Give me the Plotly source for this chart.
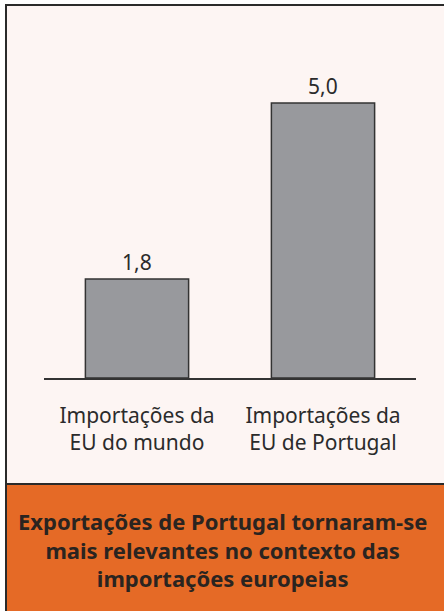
import plotly.graph_objects as go

categories = ["Importações da<br>EU do mundo", "Importações da<br>EU de Portugal"]
values = [1.8, 5.0]
value_labels = ["1,8", "5,0"]
footer_lines = [
    "Exportações de Portugal tornaram-se",
    "mais relevantes no contexto das",
    "importações europeias",
]

W, H = 444, 611
FONT = "Noto Sans"

def px(x):
    return x / W

def py(y):
    return 1 - y / H

fig = go.Figure()
fig.add_trace(go.Bar(
    x=categories,
    y=values,
    marker=dict(color="#98999D", line=dict(color="#333333", width=1.5)),
    cliponaxis=False,
    width=0.555,
    hoverinfo="skip",
))

annotations = []
for c, v, lab in zip(categories, values, value_labels):
    annotations.append(dict(
        text=lab, x=c, y=v, xref="x", yref="y",
        xanchor="center", yanchor="bottom", yshift=1,
        showarrow=False,
        font=dict(family=FONT, size=21, color="#2b2b2b"),
    ))
annotations.append(dict(
    text="<b>" + "<br>".join(footer_lines) + "</b>", xref="paper", yref="paper",
    x=px(222), y=py(549), xanchor="center", yanchor="middle",
    showarrow=False, align="center",
    font=dict(family=FONT, size=22, color="#2a2420"),
))

fig.update_layout(
    width=W, height=H,
    margin=dict(l=0, r=0, t=0, b=0),
    paper_bgcolor="#ffffff",
    plot_bgcolor="rgba(0,0,0,0)",
    showlegend=False,
    font=dict(family=FONT, size=21, color="#2b2b2b"),
    xaxis=dict(
        domain=[px(44), px(416)],
        range=[-0.5, 1.5],
        showline=True, linecolor="#333333", linewidth=1.5,
        ticks="", showgrid=False, zeroline=False,
        tickfont=dict(family=FONT, size=21, color="#2b2b2b"),
        ticklabelstandoff=18,
        automargin=False,
        fixedrange=True,
    ),
    yaxis=dict(
        domain=[py(378), py(76)],
        range=[0, 302 / 55],
        visible=False,
        automargin=False,
        fixedrange=True,
    ),
    shapes=[
        dict(type="rect", xref="paper", yref="paper", layer="below",
             x0=px(6), x1=px(460), y0=py(5), y1=py(484),
             fillcolor="#FDF5F3", line=dict(color="#2a2a2a", width=2)),
        dict(type="rect", xref="paper", yref="paper", layer="below",
             x0=px(6), x1=px(460), y0=py(484), y1=py(630),
             fillcolor="#E56A26", line=dict(color="#2a2a2a", width=2)),
    ],
    annotations=annotations,
)

fig.write_html(
    "out.html",
    config={"displayModeBar": False},
    post_script="document.body.style.margin='0';document.body.style.overflow='hidden';",
)
